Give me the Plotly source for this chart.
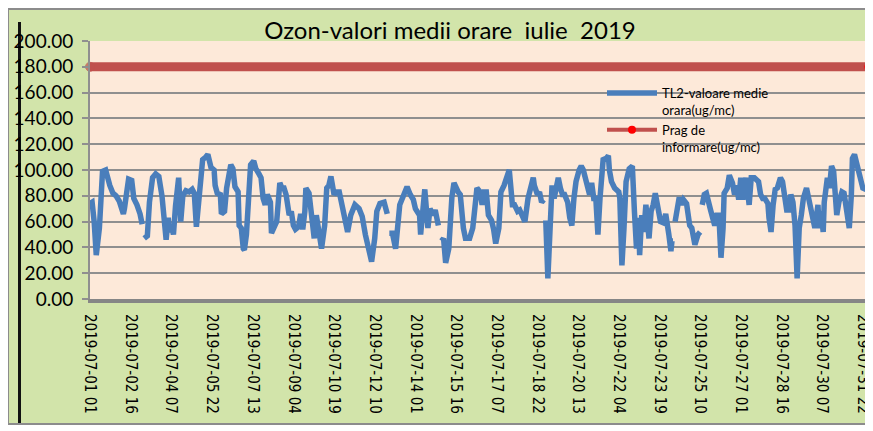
import pandas as pd
import plotly.graph_objects as go

# ---------------- data ----------------
start_time = "2019-07-01 01:00"
n_hours = 746          # hourly categories shown on the x axis
tick_step_hours = 39

hour_offset = [
    0, 2, 4, 6, 9, 11, 12, 15, 17, 19, 22, 25, 28, 30, 32, 33, 35, 37, 40, 42, 45, 48, 50, 51,
    52, 55, 57, 60, 63, 66, 69, 71, 73, 75, 76, 78, 80, 82, 85, 87, 89, 92, 95, 98, 100, 102,
    106, 108, 111, 113, 116, 119, 120, 122,
    125, 126, 129, 131, 135, 137, 139, 142, 143, 145, 147, 148, 150, 153, 154, 157, 159, 162,
    164, 166, 168, 170, 173, 174, 177, 179,
    182, 184, 186, 188, 191, 193, 195, 197, 200, 202, 204, 206, 207, 210, 212, 215, 217, 220,
    222, 225, 227, 229, 231, 234, 236, 239, 241, 243, 245,
    247, 250, 254, 258, 261, 264, 268, 270, 273, 275, 278, 282, 285, 286, 287, 290, 293, 295,
    297, 301, 304, 307, 310, 312, 316, 317, 319, 321, 324, 326, 329, 331, 334, 336, 337, 339,
    341, 344, 347, 349, 353, 355, 358, 360, 364, 367, 370,
    371, 374, 376, 378, 380, 382, 385, 387, 389, 392, 394, 397, 399, 402, 403, 405, 407, 410,
    412, 415, 417, 420, 422, 425, 426, 429, 431, 433, 435, 436, 437, 438, 439, 441, 443, 445,
    447, 449, 451, 453, 455, 458, 460, 462, 464, 466, 469, 471, 473, 476, 479, 481, 483, 485,
    487, 489, 491, 492, 495,
    497, 498, 500, 503, 507, 508, 510, 512, 513, 514, 517, 520, 522, 524, 526, 527, 529, 531,
    533, 535, 536, 538, 540, 542, 545, 547, 550, 552, 555, 557, 558, 559, 560, 561, 563, 565,
    567, 569, 572, 575, 577, 578, 580, 583, 585, 586, 587, 589, 591, 593, 595, 597, 599, 601,
    603, 605, 607, 608, 611, 613, 616, 618,
    620, 622, 624, 626, 629, 632, 634, 637, 641, 643, 645, 647, 650, 651, 653, 655, 657, 659,
    662, 664, 666, 668, 670, 672, 674, 676, 678, 680, 682, 684, 687, 689, 691, 693, 695, 698,
    699, 701, 703, 704, 707, 709, 711, 713, 716, 718, 721, 723, 726, 728, 730, 731, 733, 736,
    738, 741, 744,
]

ozone = [
    74, 75, 60, 34, 55, 80, 99, 100, 92, 88, 82, 80, 76, 70, 66, 70, 80, 93, 92, 78, 73, 66, 58, None,
    47, 49, 75, 94, 97, 95, 80, 60, 46, 63, 52, 57, 50, 72, 94, 60, 80, 84, 83, 85, 82, 56,
    100, 108, 110, 112, 102, 100, 88, 82,
    81, 66, 68, 86, 104, 101, 87, 83, 57, 55, 39, 38, 50, 94, 104, 107, 101, 97,
    94, 78, 73, 81, 75, 51, 57, 60,
    90, 86, 86, 81, 65, 68, 57, 54, 56, 66, 54, 68, 86, 82, 68, 47, 65, 45,
    39, 57, 86, 88, 95, 81, 83, 83, 74, 68, 55,
    52, 65, 73, 70, 64, 50, 34, 29, 47, 68, 74, 75, 66, None, 51, 51, 39, 55,
    73, 81, 87, 81, 77, 70, 65, 50, 73, 85, 55, 70, 65, 69, 57, None, 45, 47,
    28, 39, 79, 90, 83, 81, 55, 47, 47, 55, 78,
    86, 83, 73, 83, 83, 65, 61, 54, 43, 55, 83, 88, 94, 100, 91, 73, 73, 68,
    69, 64, 60, 78, 86, 94, 88, 81, 83, 75, 77, None, 61, 37, 16, 52, 88, 78,
    88, 94, 86, 81, 81, 75, 63, 57, 78, 91, 100, 103, 100, 91, 81, 90, 78, 78,
    50, 78, 104, 108, 109,
    111, 100, 91, 86, 83, 78, 26, 55, 73, 91, 101, 103, 68, 39, 63, 34, 65, 52,
    73, 52, 47, 68, 73, 82, 68, 60, 59, 66, 50, 37, 45, 45, None, 60, 73, 79,
    73, 77, 74, 57, 55, 50, 42, 50, 52, None, 73, 81, 82, 73, 69, 63, 57, 65,
    65, 32, 55, 82, 86, 96, 90, 81,
    88, 77, 94, 77, 94, 73, 94, 94, 91, 81, 78, 78, 74, 63, 52, 73, 85, 86,
    94, 91, 81, 69, 69, 81, 75, 57, 16, 55, 65, 78, 86, 78, 68, 63, 55, 73,
    55, 68, 52, 75, 94, 86, 103, 99, 65, 75, 83, 82, 60, 55, 81, 109, 112, 101,
    94, 86, 85,
]

threshold_value = 180.0
series_name = "TL2-valoare medie<br>orara(ug/mc)"
threshold_name = "Prag de<br>informare(ug/mc)"
title_text = "Ozon-valori medii orare\u00a0 iulie\u00a0 2019"

# ---------------- figure ----------------
W, H = 873, 431          # page body adds an 8px offset
PL, PR, PT, PB = 82, 859, 33, 291   # plot area in figure pixels

t0 = pd.Timestamp(start_time)
x_vals = [t0 + pd.Timedelta(hours=h) for h in hour_offset]
t_end = t0 + pd.Timedelta(hours=n_hours - 1)

def px_x(p):  # screen pixel -> paper x
    return (p - 8 - PL) / (PR - PL)

def px_y(p):  # screen pixel -> paper y
    return (PB - (p - 8)) / (PB - PT)

fig = go.Figure()
fig.add_trace(go.Scatter(
    x=x_vals, y=ozone, name=series_name, mode="lines",
    line=dict(color="#4A7EBB", width=5.5), connectgaps=False,
    legendrank=1,
))
fig.add_trace(go.Scatter(
    x=[t_end, t0], y=[threshold_value, threshold_value], name=threshold_name,
    mode="lines+markers", cliponaxis=False, showlegend=False,
    line=dict(color="#C0504D", width=9),
    marker=dict(color=["#FF0000", "#C0504D"], size=[7, 9]),
))
# legend entry for the threshold series (thinner sample line, as in the reference)
fig.add_trace(go.Scatter(
    x=[None], y=[None], name=threshold_name, mode="lines+markers",
    line=dict(color="#C0504D", width=4), marker=dict(color="#FF0000", size=8),
    legendrank=2,
))

fig.update_layout(
    width=W, height=H,
    margin=dict(l=PL, r=W - PR, t=PT, b=H - PB, pad=0, autoexpand=False),
    paper_bgcolor="white", plot_bgcolor="#FDE9D9",
    title=dict(text=title_text, x=(450 - 8) / W, xanchor="center", y=1 - (31 - 8) / H,
               yanchor="middle", font=dict(family="Lato", size=24, color="black")),
    showlegend=True,
    legend=dict(x=px_x(602), y=px_y(78), xanchor="left", yanchor="top",
                bgcolor="rgba(0,0,0,0)", font=dict(family="Lato", size=13, color="black"),
                valign="top", itemwidth=50, tracegroupgap=0),
    shapes=[
        dict(type="rect", xref="paper", yref="paper", layer="below",
             x0=px_x(8), x1=px_x(869), y0=px_y(424), y1=px_y(9),
             fillcolor="#D2E4AA", line=dict(color="#8C8C8C", width=2)),
        dict(type="rect", xref="paper", yref="paper", layer="below",
             x0=0, x1=1, y0=0, y1=1, fillcolor="#FDE9D9", line=dict(width=0)),
        dict(type="line", xref="paper", yref="paper", layer="below",
             x0=px_x(19.5), x1=px_x(19.5), y0=px_y(22), y1=px_y(423),
             line=dict(color="#111111", width=3)),
    ],
)

fig.update_xaxes(
    type="date", range=[t0, t_end], automargin=False,
    tick0=t0, dtick=tick_step_hours * 3600000, tickformat="%Y-%m-%d %H",
    tickangle=90, showgrid=False, ticks="",
    showline=True, linecolor="#868686", linewidth=4,
    tickfont=dict(family="DejaVu Sans Condensed, DejaVu Sans", size=15, color="black"),
    ticklabelstandoff=8, ticklabeloverflow="allow",
)
fig.update_yaxes(
    range=[0, 200], dtick=20, tickformat=".2f", automargin=False,
    showgrid=True, gridcolor="#8F8F8F", gridwidth=1.5,
    showline=True, linecolor="#8F8F8F", linewidth=2,
    ticks="outside", ticklen=6, tickcolor="#8F8F8F", tickwidth=1.5,
    tickfont=dict(family="Lato", size=19, color="black"),
    ticklabelstandoff=5, zeroline=False,
)

fig.write_html("out.html")
